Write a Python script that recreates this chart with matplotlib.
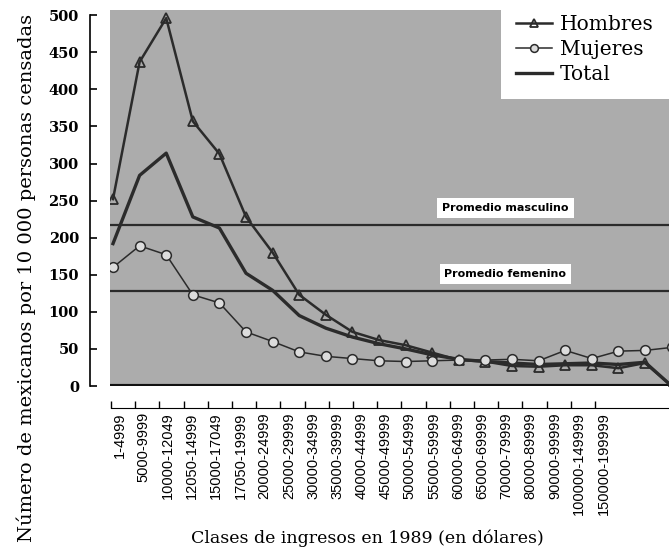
import matplotlib.pyplot as plt

# series (values per 10 000 people)
hombres = [252, 437, 496, 357, 313, 228, 180, 123, 96, 73, 62, 55, 45, 35, 33, 27, 26, 28, 28, 24, 31, 0]
mujeres = [160, 189, 177, 123, 112, 73, 60, 46, 40, 37, 34, 33, 34, 35, 35, 36, 34, 48, 37, 47, 48, 52]
total = [192, 284, 314, 228, 213, 152, 129, 95, 78, 66, 57, 50, 42, 36, 33, 31, 29, 30, 31, 29, 32, 0]

promedio_masculino = 217
promedio_femenino = 128

clases = [
    "1-4999", "5000-9999", "10000-12049", "12050-14999", "15000-17049",
    "17050-19999", "20000-24999", "25000-29999", "30000-34999", "35000-39999",
    "40000-44999", "45000-49999", "50000-54999", "55000-59999", "60000-64999",
    "65000-69999", "70000-79999", "80000-89999", "90000-99999", "100000-149999",
    "150000-199999",
]
yticks = [0, 50, 100, 150, 200, 250, 300, 350, 400, 450, 500]

W, H = 669, 550
fig = plt.figure(figsize=(W / 100, H / 100), dpi=100)
dark = "#2b2b2b"

# main plotting area (grey shaded panel)
ax = fig.add_axes([110 / W, (H - 386) / H, 559 / W, 376 / H])
ax.set_facecolor("#acacac")
ax.set_xlim(-0.113, 20.9)
ax.set_ylim(0, 507)

x = list(range(len(hombres)))
ax.plot(x, total, color=dark, lw=2.4, label="Total", zorder=3)
ax.plot(x, hombres, color=dark, lw=1.8, marker="^", markersize=7.5,
        markerfacecolor="none", markeredgecolor=dark, markeredgewidth=1.3,
        label="Hombres", zorder=4)
ax.plot(x, mujeres, color=dark, lw=1.1, marker="o", markersize=7,
        markerfacecolor="#dcdcdc", markeredgecolor=dark, markeredgewidth=1.1,
        label="Mujeres", zorder=4)

ax.axhline(promedio_masculino, color=dark, lw=1.6, zorder=2)
ax.axhline(promedio_femenino, color=dark, lw=1.6, zorder=2)
ax.axhline(0, color="#111111", lw=3, zorder=2)

box = dict(facecolor="white", edgecolor="none", pad=3.5)
ax.text(14.75, 240, "Promedio masculino", fontsize=8, fontweight="bold",
        ha="center", va="center", bbox=box, zorder=5)
ax.text(14.75, 151, "Promedio femenino", fontsize=8, fontweight="bold",
        ha="center", va="center", bbox=box, zorder=5)

for side in ["top", "right", "bottom"]:
    ax.spines[side].set_visible(False)
ax.spines["left"].set_position(("outward", 14.4))
ax.spines["left"].set_bounds(0, 500)
ax.spines["left"].set_linewidth(1.2)
ax.set_xticks([])
ax.set_yticks(yticks)
ax.tick_params(axis="y", direction="in", length=5, width=1.2, pad=8)
for lab in ax.get_yticklabels():
    lab.set_fontfamily("DejaVu Serif")
    lab.set_fontweight("bold")
    lab.set_fontsize(10.5)

# separate category axis below the panel
ax2 = fig.add_axes([111 / W, 1 - 408 / H, (W - 111) / W, 0.0001])
ax2.set_xlim(0, (W - 111) / 24.2)
for side in ["top", "right", "left"]:
    ax2.spines[side].set_visible(False)
ax2.set_yticks([])
ax2.set_xticks(range(len(clases)))
ax2.set_xticklabels([])
ax2.set_xticks([i + 0.35 for i in range(len(clases))], minor=True)
ax2.set_xticklabels(clases, minor=True, rotation=90, fontsize=10.5,
                    fontfamily="Liberation Sans", va="top", ha="center")
ax2.tick_params(axis="x", which="major", direction="in", length=5, width=1)
ax2.tick_params(axis="x", which="minor", length=0, pad=3)

legend = fig.legend(loc="upper right", bbox_to_anchor=(1.0, 1.0),
                    handles=[ax.lines[1], ax.lines[2], ax.lines[0]],
                    prop={"family": "DejaVu Serif", "size": 14.5},
                    frameon=True, fancybox=False, edgecolor="none",
                    framealpha=1, handlelength=1.8, labelspacing=0.3,
                    borderpad=0.75, handletextpad=0.4, markerscale=0.8,
                    borderaxespad=0.0)

fig.text(0.039, 0.494, "Número de mexicanos por 10 000 personas censadas",
         rotation=90, ha="center", va="center", fontsize=14,
         fontfamily="DejaVu Serif")
fig.text(0.549, 0.022, "Clases de ingresos en 1989 (en dólares)",
         ha="center", va="center", fontsize=12.5, fontfamily="DejaVu Serif")

fig.savefig("out.png", dpi=100)
